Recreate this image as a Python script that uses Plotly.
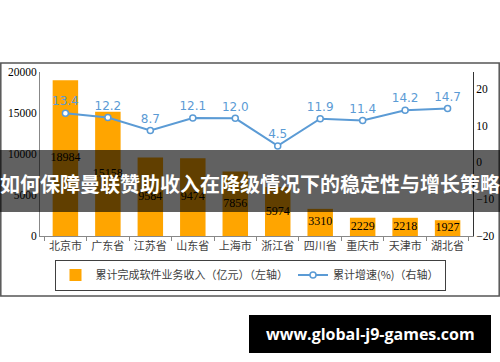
import plotly.graph_objects as go

categories = ["北京市", "广东省", "江苏省", "山东省", "上海市", "浙江省", "四川省", "重庆市", "天津市", "湖北省"]
revenue = [18984, 15158, 9584, 9474, 7856, 5974, 3310, 2229, 2218, 1927]
growth = [13.4, 12.2, 8.7, 12.1, 12.0, 4.5, 11.9, 11.4, 14.2, 14.7]
left_ticks = [0, 5000, 10000, 15000, 20000]
right_ticks = [-20, -10, 0, 10, 20]
bar_name = "累计完成软件业务收入（亿元）（左轴）"
line_name = "累计增速(%)（右轴）"
banner_text = "如何保障曼联赞助收入在降级情况下的稳定性与增长策略"
site_text = "www.global-j9-games.com"

W, H = 500, 362
L, R, T, B = 40, 473, 72, 236
def px(x): return (x - L) / (R - L)
def py(y): return (B - y) / (B - T)

fig = go.Figure()
fig.add_trace(go.Bar(
    x=categories, y=revenue, name=bar_name, width=0.6,
    marker=dict(color="#FFA500", line=dict(width=0)),
    yaxis="y", showlegend=True,
))
fig.add_trace(go.Scatter(
    x=categories, y=[v / 2 for v in revenue], mode="text",
    text=[str(v) for v in revenue], textposition="middle center",
    textfont=dict(family="Liberation Serif", size=12, color="#000000"),
    showlegend=False, hoverinfo="skip", yaxis="y",
))
fig.add_trace(go.Scatter(
    x=categories, y=growth, name=line_name, mode="lines+markers+text",
    line=dict(color="#5B9BD5", width=2),
    marker=dict(symbol="circle", size=6, color="white", line=dict(color="#5B9BD5", width=1.5)),
    text=[f"{v:.1f}" for v in growth], textposition="top center",
    textfont=dict(family="DejaVu Sans", size=12, color="#5B9BD5"),
    yaxis="y2", cliponaxis=False,
))

fig.update_layout(
    width=W, height=H,
    margin=dict(l=L, r=W - R, t=T, b=H - B, autoexpand=False),
    paper_bgcolor="white", plot_bgcolor="white",
    bargap=0.4,
    xaxis=dict(
        showline=True, linecolor="#888888", linewidth=1,
        ticks="outside", ticklen=4, tickcolor="#888888", tickson="boundaries",
        tickfont=dict(family="Noto Sans CJK SC", size=11, color="#404040"),
        tickangle=0, automargin=False,
        showgrid=False, fixedrange=True,
    ),
    yaxis=dict(
        range=[0, 20000], tickvals=left_ticks, tickformat="d", showgrid=False, zeroline=False,
        showline=True, linecolor="#888888", linewidth=1, automargin=False,
        tickfont=dict(family="Liberation Serif", size=11.5, color="#000000"),
        ticks="", ticklen=0,
    ),
    yaxis2=dict(
        range=[-20, 24.6], tickvals=right_ticks, overlaying="y", side="right",
        showgrid=False, zeroline=False, showline=True, linecolor="#333333", linewidth=1,
        tickfont=dict(family="Liberation Serif", size=11.5, color="#000000"),
        ticks="", ticklen=0, automargin=False,
    ),
    legend=dict(
        orientation="h", x=px(250), y=py(275), xanchor="center", yanchor="middle",
        bordercolor="#404040", borderwidth=1, bgcolor="white",
        font=dict(family="Noto Sans CJK SC", size=11, color="#404040"),
        itemwidth=30, tracegroupgap=0,
    ),
    shapes=[
        dict(type="rect", xref="paper", yref="paper",
             x0=px(0.8), x1=px(499.2), y0=py(63), y1=py(296),
             line=dict(color="#555555", width=1.5), fillcolor="rgba(0,0,0,0)", layer="below"),
        dict(type="rect", xref="paper", yref="paper",
             x0=px(0), x1=px(500), y0=py(150), y1=py(212),
             line=dict(width=0), fillcolor="rgba(0,0,0,0.62)", layer="above"),
        dict(type="rect", xref="paper", yref="paper",
             x0=px(249), x1=px(491), y0=py(315), y1=py(353),
             line=dict(width=0), fillcolor="black", layer="above"),
    ],
    annotations=[
        dict(text=banner_text, xref="paper", yref="paper", x=px(250), y=py(183),
             xanchor="center", yanchor="middle", showarrow=False,
             font=dict(family="Noto Sans CJK SC", size=20, color="white", weight="bold")),
        dict(text=site_text, xref="paper", yref="paper", x=px(370), y=py(334),
             xanchor="center", yanchor="middle", showarrow=False,
             font=dict(family="Open Sans", size=16, color="white", weight="bold")),
    ],
)

fig.write_html(
    "out.html",
    config={"displayModeBar": False},
    post_script="document.body.style.margin='0';document.body.style.padding='0';",
)
